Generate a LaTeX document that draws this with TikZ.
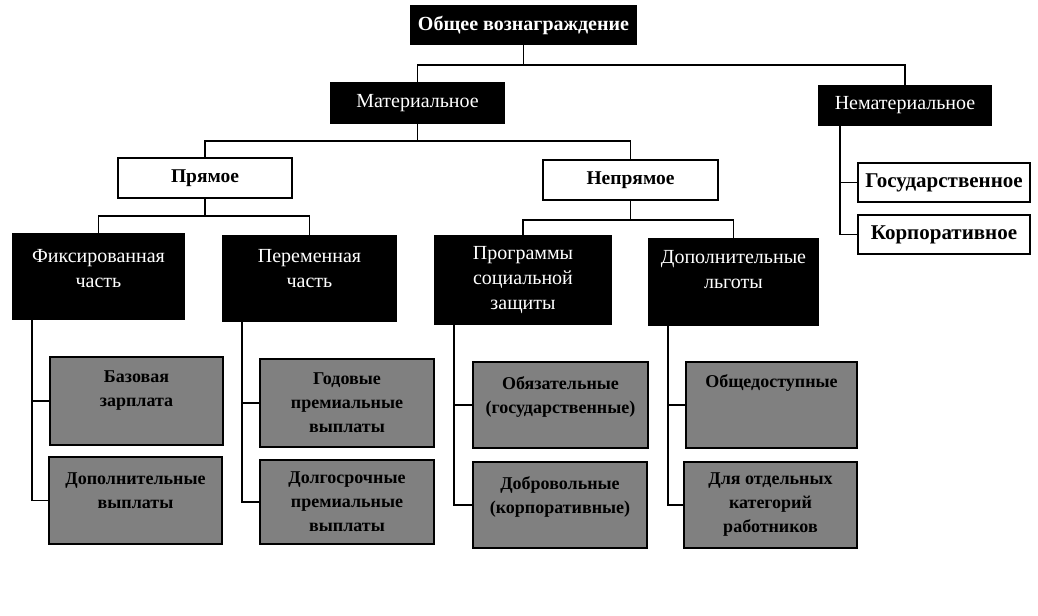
\documentclass[tikz,border=0pt]{standalone}
\usepackage{fontspec}
\setmainfont{Liberation Serif}
\begin{document}
\begin{tikzpicture}[x=1bp,y=-1bp,
  every node/.style={inner sep=0pt, outer sep=0pt},
  base/.style={align=center, font=\fontsize{20bp}{25bp}\selectfont},
  blackbox/.style={base, fill=black, text=white},
  topbox/.style={blackbox, font=\fontsize{20bp}{25bp}\selectfont\bfseries},
  whitebox/.style={base, draw=black, line width=2bp, fill=white, font=\fontsize{19.5bp}{25bp}\selectfont\bfseries},
  widewhite/.style={whitebox, font=\fontsize{21bp}{25bp}\selectfont\bfseries},
  graybox/.style={base, draw=black, line width=2.5bp, fill=black!50, text=black, font=\fontsize{18bp}{24bp}\selectfont\bfseries},
  conn/.style={draw=black, line width=1.6bp}
]
\useasboundingbox (0,0) rectangle (1038,616);

% levels and spines
\coordinate (L1) at (0,65);
\coordinate (L2) at (0,141);
\coordinate (L3a) at (0,216);
\coordinate (L3b) at (0,220);
\coordinate (sp1) at (32,0);
\coordinate (sp2) at (242,0);
\coordinate (sp3) at (454,0);
\coordinate (sp4) at (668,0);
\coordinate (sp5) at (840,0);

% nodes
\node[topbox, minimum width=227bp, minimum height=40bp] (top) at (523.5,25) {Общее вознаграждение};
\node[blackbox, minimum width=175bp, minimum height=42bp] (mat) at (417.5,103) {Материальное};
\node[blackbox, minimum width=174bp, minimum height=41bp] (nemat) at (905,105.5) {Нематериальное};
\node[whitebox, minimum width=174bp, minimum height=40bp] (pr) at (205,178) {Прямое};
\node[whitebox, minimum width=175bp, minimum height=40bp] (npr) at (630.5,180) {Непрямое};
\node[widewhite, minimum width=172bp, minimum height=39bp] (gos) at (944,182.5) {Государственное};
\node[widewhite, minimum width=172bp, minimum height=39bp] (korp) at (944,234.5) {Корпоративное};

\node[blackbox, minimum width=173bp, minimum height=87bp] (fix) at (98.5,276.5) {Фиксированная\\часть\\[-9bp]\phantom{x}};
\node[blackbox, minimum width=175bp, minimum height=87bp] (var) at (309.5,278.5) {Переменная\\часть\\[-5bp]\phantom{x}};
\node[blackbox, minimum width=178bp, minimum height=90bp] (prog) at (523,280) {Программы\\социальной\\защиты};
\node[blackbox, minimum width=171bp, minimum height=88bp] (dop) at (733.5,282) {Дополнительные\\льготы\\\phantom{x}};

\node[graybox, minimum width=173bp, minimum height=88bp] (b1) at (136.5,401) {Базовая\\зарплата\\\phantom{x}};
\node[graybox, minimum width=173bp, minimum height=87bp] (b2) at (135.5,500.5) {Дополнительные\\выплаты\\[-4bp]\phantom{x}};
\node[graybox, minimum width=174bp, minimum height=88bp] (b3) at (347,403) {Годовые\\премиальные\\выплаты};
\node[graybox, minimum width=174bp, minimum height=84bp] (b4) at (347,502) {Долгосрочные\\премиальные\\выплаты};
\node[graybox, minimum width=175bp, minimum height=86bp] (b5) at (560.5,405) {Обязательные\\(государственные)\\[-4bp]\phantom{x}};
\node[graybox, minimum width=174bp, minimum height=86bp] (b6) at (560,505) {Добровольные\\(корпоративные)\\[-4bp]\phantom{x}};
\node[graybox, minimum width=171bp, minimum height=86bp] (b7) at (771.5,405) {Общедоступные\\\phantom{x}\\\phantom{x}};
\node[graybox, minimum width=173bp, minimum height=86bp] (b8) at (770.5,505) {Для отдельных\\категорий\\работников};

% connectors
\draw[conn] (top.south) -- (top.south |- L1) -| (mat.north);
\draw[conn] (top.south |- L1) -| (nemat.north);
\draw[conn] (mat.south) -- (mat.south |- L2) -| (pr.north);
\draw[conn] (mat.south |- L2) -| (npr.north);
\draw[conn] (pr.south) -- (pr.south |- L3a) -| (fix.north);
\draw[conn] (pr.south |- L3a) -| (var.north);
\draw[conn] (npr.south) -- (npr.south |- L3b) -| (prog.north);
\draw[conn] (npr.south |- L3b) -| (dop.north);

\draw[conn] (nemat.south -| sp5) |- (gos.west);
\draw[conn] (nemat.south -| sp5) |- (korp.west);

\draw[conn] (fix.south -| sp1) |- (b1.west);
\draw[conn] (fix.south -| sp1) |- (b2.west);
\draw[conn] (var.south -| sp2) |- (b3.west);
\draw[conn] (var.south -| sp2) |- (b4.west);
\draw[conn] (prog.south -| sp3) |- (b5.west);
\draw[conn] (prog.south -| sp3) |- (b6.west);
\draw[conn] (dop.south -| sp4) |- (b7.west);
\draw[conn] (dop.south -| sp4) |- (b8.west);
\end{tikzpicture}
\end{document}
